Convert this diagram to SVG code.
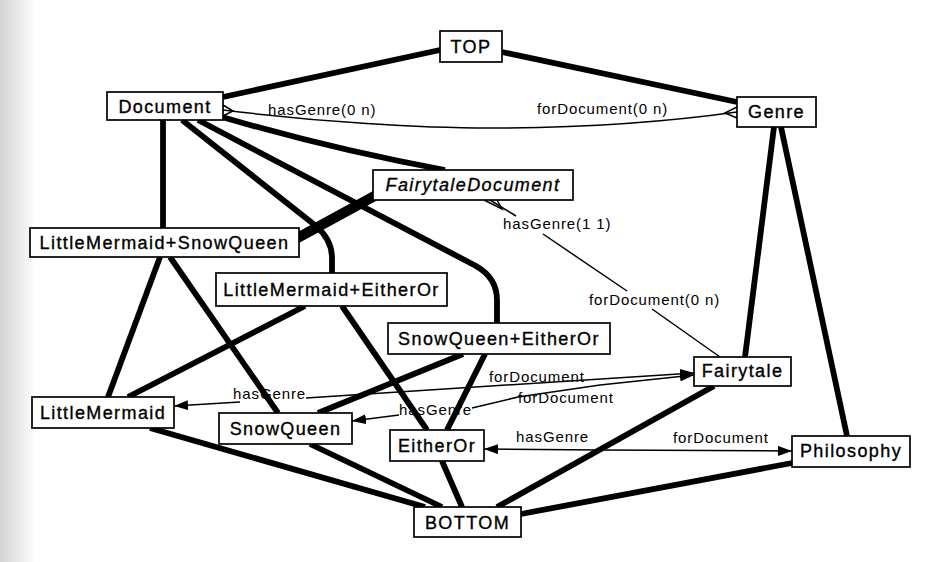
<svg xmlns="http://www.w3.org/2000/svg" width="934" height="562" viewBox="0 0 934 562">
<defs>
  <linearGradient id="edgeShade" x1="0" x2="1" y1="0" y2="0">
    <stop offset="0" stop-color="#d2d2d2"/>
    <stop offset="1" stop-color="#ffffff"/>
  </linearGradient>
  <marker id="arr" viewBox="0 0 14 10" refX="14" refY="5" markerWidth="14" markerHeight="10" markerUnits="userSpaceOnUse" orient="auto">
    <path d="M0,0 L14,5 L0,10 z" fill="#000"/>
  </marker>
  <style>
    .n rect { fill:#fff; stroke:#000; stroke-width:1.7; }
    .n text { font-family:"Liberation Sans", Arial, sans-serif; font-size:18px; letter-spacing:1.4px; text-anchor:middle; fill:#000; stroke:#000; stroke-width:0.35; }
    .n text.it { font-style:italic; }
    .thick { stroke:#000; stroke-width:5.8; fill:none; stroke-linecap:butt; }
    .wedge { stroke:#000; stroke-width:10; fill:none; }
    .thin { stroke:#000; stroke-width:1.5; fill:none; }
    .lbl { font-family:"Liberation Sans", Arial, sans-serif; font-size:15px; letter-spacing:0.9px; fill:#000; }
  </style>
</defs>
<rect x="0" y="0" width="934" height="562" fill="#ffffff"/>
<rect x="0" y="0" width="36" height="562" fill="url(#edgeShade)"/>

<g id="connectors">
  <!-- thick subsumption edges -->
  <path class="thick" d="M223,97 L440,50"/>
  <path class="thick" d="M502,52 L737,102"/>
  <path class="thick" d="M163,120 L163,228"/>
  <path class="thick" d="M222,117 Q335,150 445,170"/>
  <path class="thick" d="M182,120 L316,226 Q332,240 332,258 L332,273"/>
  <path class="thick" d="M198,120 L476,266 Q497,278 497,300 L497,323"/>
  <path class="wedge" d="M292,241 L380,193"/>
  <path class="thick" d="M160,257 L108,397"/>
  <path class="thick" d="M170,257 L278,413"/>
  <path class="thick" d="M305,306 L128,397"/>
  <path class="thick" d="M342,306 L427,430"/>
  <path class="thick" d="M463,354 L318,413"/>
  <path class="thick" d="M485,354 L447,430"/>
  <path class="thick" d="M774,127 L745,357"/>
  <path class="thick" d="M781,127 L847,436"/>
  <path class="thick" d="M150,428 L425,507"/>
  <path class="thick" d="M310,444 L442,507"/>
  <path class="thick" d="M442,461 L462,507"/>
  <path class="thick" d="M714,386 L497,507"/>
  <path class="thick" d="M792,463 L521,514"/>

  <!-- Document <-> Genre -->
  <path class="thin" d="M223,110 C320,122 420,128 490,128 C600,128 680,120 737,112"/>
  <path class="thin" d="M223,105 L233,111 L223,116"/>
  <path class="thin" d="M737,107 L725,113 L737,118"/>

  <!-- FairytaleDocument <-> Fairytale -->
  <path class="thin" d="M490,200 L516,216"/>
  <path class="thin" d="M484,200 L502,209 L497,200"/>
  <path class="thin" d="M543,234 L627,291"/>
  <path class="thin" d="M652,309 L720,357"/>

  <!-- LittleMermaid <-> Fairytale -->
  <path class="thin" d="M240,402 L174,406" marker-end="url(#arr)"/>
  <path class="thin" d="M306,398 L694,373" marker-end="url(#arr)"/>

  <!-- SnowQueen <-> Fairytale -->
  <path class="thin" d="M399,415 L352,421" marker-end="url(#arr)"/>
  <path class="thin" d="M472,408 L518,397 L600,385 L694,375" marker-end="url(#arr)"/>

  <!-- EitherOr <-> Philosophy -->
  <path class="thin" d="M600,450 L484,449" marker-end="url(#arr)"/>
  <path class="thin" d="M600,450 L792,451" marker-end="url(#arr)"/>

  <!-- labels -->
  <text class="lbl" x="268" y="115">hasGenre(0 n)</text>
  <text class="lbl" x="537" y="114">forDocument(0 n)</text>
  <text class="lbl" x="503" y="229">hasGenre(1 1)</text>
  <text class="lbl" x="589" y="305">forDocument(0 n)</text>
  <text class="lbl" x="233" y="399">hasGenre</text>
  <text class="lbl" x="489" y="382">forDocument</text>
  <text class="lbl" x="399" y="415">hasGenre</text>
  <text class="lbl" x="518" y="403">forDocument</text>
  <text class="lbl" x="516" y="442">hasGenre</text>
  <text class="lbl" x="673" y="443">forDocument</text>
</g>

<g id="node-top" class="n"><rect x="440" y="31" width="62" height="31"/><text x="471" y="53">TOP</text></g>
<g id="node-document" class="n"><rect x="107" y="92" width="116" height="28"/><text x="165" y="113">Document</text></g>
<g id="node-genre" class="n"><rect x="737" y="97" width="79" height="30"/><text x="776.5" y="118">Genre</text></g>
<g id="node-fairytaledocument" class="n"><rect x="373" y="170" width="200" height="30"/><text class="it" x="473" y="191">FairytaleDocument</text></g>
<g id="node-lm-sq" class="n"><rect x="30" y="228" width="269" height="29"/><text x="164.5" y="249">LittleMermaid+SnowQueen</text></g>
<g id="node-lm-eo" class="n"><rect x="216" y="273" width="231" height="33"/><text x="331.5" y="296">LittleMermaid+EitherOr</text></g>
<g id="node-sq-eo" class="n"><rect x="388" y="323" width="222" height="31"/><text x="499" y="345">SnowQueen+EitherOr</text></g>
<g id="node-fairytale" class="n"><rect x="694" y="357" width="97" height="29"/><text x="742.5" y="377">Fairytale</text></g>
<g id="node-littlemermaid" class="n"><rect x="32" y="397" width="142" height="31"/><text x="103" y="419">LittleMermaid</text></g>
<g id="node-snowqueen" class="n"><rect x="219" y="413" width="133" height="31"/><text x="285.5" y="435">SnowQueen</text></g>
<g id="node-eitheror" class="n"><rect x="390" y="430" width="94" height="31"/><text x="437" y="452">EitherOr</text></g>
<g id="node-philosophy" class="n"><rect x="792" y="436" width="118" height="31"/><text x="851" y="457">Philosophy</text></g>
<g id="node-bottom" class="n"><rect x="414" y="507" width="107" height="30"/><text x="467.5" y="529">BOTTOM</text></g>
</svg>
